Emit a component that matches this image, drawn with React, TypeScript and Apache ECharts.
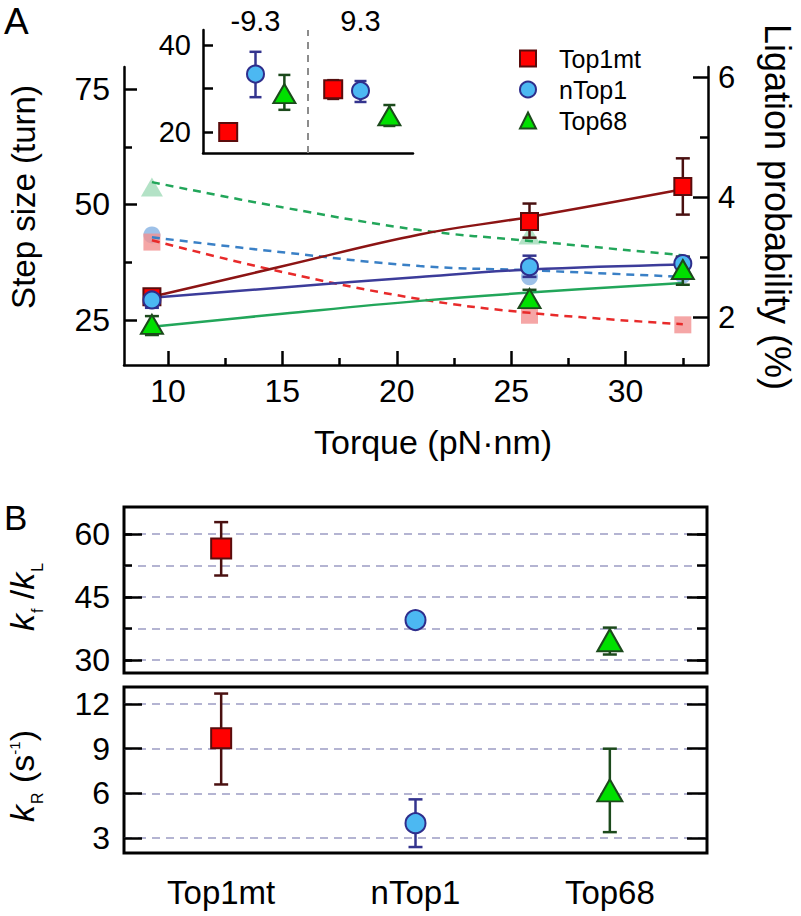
import React, { useEffect, useRef } from 'react';
import * as echarts from 'echarts';

const FONT = '"Liberation Sans", Arial, Helvetica, sans-serif';

// ---------- Panel A main data ----------
const torque = [9.3, 25.8, 32.5];
const stepTop1mt = [30.0, 46.3, 53.9];
const stepTop1mtLo = [28.6, 42.8, 47.8];
const stepTop1mtHi = [31.4, 50.2, 60.0];
const stepNTop1 = [29.3, 36.5, 37.2];
const stepNTop1Lo = [27.6, 34.3, 35.8];
const stepNTop1Hi = [31.0, 38.9, 38.6];
const stepTop68 = [24.0, 29.6, 35.9];
const stepTop68Lo = [21.7, 27.6, 32.6];
const stepTop68Hi = [25.8, 31.5, 38.7];

const ligTop1mt = [3.25, 2.03, 1.87];
const ligNTop1 = [3.37, 2.67, 2.7];
const ligTop68 = [4.17, 3.37, 2.8];

const fitTorque = [9.3, 15, 21, 25.8, 32.5];
const stepFitTop1mt = [30.0, 36.6, 43.5, 47.3, 53.3];
const stepFitNTop1 = [29.8, 32.0, 34.3, 35.9, 37.0];
const stepFitTop68 = [23.5, 26.3, 29.1, 30.9, 33.0];
const ligFitTop1mt = [3.28, 2.75, 2.3, 2.07, 1.88];
const ligFitNTop1 = [3.33, 3.08, 2.85, 2.78, 2.67];
const ligFitTop68 = [4.25, 3.83, 3.45, 3.27, 3.03];

// ---------- Inset data ----------
const insetGroups = ['-9.3', '9.3'];
const insetTop1mt = [20.0, 29.8];
const insetTop1mtLo = [19.2, 27.6];
const insetTop1mtHi = [20.8, 31.9];
const insetNTop1 = [33.3, 29.5];
const insetNTop1Lo = [28.0, 26.9];
const insetNTop1Hi = [38.4, 31.7];
const insetTop68 = [28.8, 23.7];
const insetTop68Lo = [25.1, 21.4];
const insetTop68Hi = [33.1, 26.2];

// ---------- Panel B data ----------
const cats = ['Top1mt', 'nTop1', 'Top68'];
const kfkL = [56.5, 39.5, 34.7];
const kfkLLo = [50.1, 38.8, 31.3];
const kfkLHi = [62.8, 40.2, 37.7];
const kR = [9.7, 4.0, 6.2];
const kRLo = [6.6, 2.4, 3.4];
const kRHi = [12.7, 5.6, 9.0];

// ---------- Tick values ----------
const torqueTicks = [10, 15, 20, 25, 30];
const torqueMinor = [12.5, 17.5, 22.5, 27.5, 32.5];
const stepTicks = [25, 50, 75];
const stepMinor = [37.5, 62.5];
const ligTicks = [2, 4, 6];
const ligMinor = [3, 5];
const insetTicks = [20, 30, 40];
const insetLabels = [20, 40];
const kfTicks = [30, 45, 60];
const kfGrid = [30, 37.5, 45, 52.5, 60];
const kRTicks = [3, 6, 9, 12];

// ---------- Styles ----------
const C = {
  top1mtFill: '#ff0000', top1mtBorder: '#5a0c0c', top1mtErr: '#4a1010', top1mtFit: '#8c1414', top1mtDash: '#e82a2a', top1mtFaded: '#f39090',
  nTop1Fill: '#4cb8f2', nTop1Border: '#2e2e8c', nTop1Err: '#34348e', nTop1Fit: '#3c3c9a', nTop1Dash: '#3a80c6', nTop1Faded: '#86b2e2',
  top68Fill: '#00e000', top68Border: '#1c4a1c', top68Err: '#1c4a1c', top68Fit: '#22a65a', top68Dash: '#22a65a', top68Faded: '#a0dbb8',
};

const zip = (xs: number[], ys: number[]) => xs.map((x, i) => [x, ys[i]]);
const zip3 = (xs: number[], a: number[], b: number[]) => xs.map((x, i) => [x, a[i], b[i]]);

function errorBars(xAxisIndex: number, yAxisIndex: number, data: number[][], color: string, cap: number) {
  return {
    type: 'custom',
    xAxisIndex,
    yAxisIndex,
    silent: true,
    z: 3,
    encode: { x: 0, y: [1, 2] },
    data,
    renderItem: (_p: any, api: any) => {
      const x = api.value(0);
      const p1 = api.coord([x, api.value(1)]);
      const p2 = api.coord([x, api.value(2)]);
      const style = { stroke: color, lineWidth: 2.5 };
      return {
        type: 'group',
        children: [
          { type: 'line', shape: { x1: p1[0], y1: p1[1], x2: p2[0], y2: p2[1] }, style },
          { type: 'line', shape: { x1: p1[0] - cap, y1: p1[1], x2: p1[0] + cap, y2: p1[1] }, style },
          { type: 'line', shape: { x1: p2[0] - cap, y1: p2[1], x2: p2[0] + cap, y2: p2[1] }, style },
        ],
      };
    },
  };
}

function markers(name: string, xAxisIndex: number, yAxisIndex: number, data: any[], symbol: string, size: any, fill: string, border: string, extra: any = {}) {
  return {
    type: 'scatter',
    name,
    xAxisIndex,
    yAxisIndex,
    symbol,
    symbolSize: size,
    z: 4,
    silent: true,
    itemStyle: { color: fill, borderColor: border, borderWidth: 2, opacity: 1 },
    data,
    ...extra,
  };
}

function fadedMarkers(yAxisIndex: number, data: any[], symbol: string, size: any, fill: string) {
  return {
    type: 'scatter',
    name: 'faded',
    xAxisIndex: 0,
    yAxisIndex,
    symbol,
    symbolSize: size,
    z: 1,
    silent: true,
    itemStyle: { color: fill, opacity: 0.8, borderWidth: 0 },
    data,
  };
}

function fitLine(yAxisIndex: number, data: any[], color: string, dashed: boolean) {
  return {
    type: 'line',
    name: 'fit',
    xAxisIndex: 0,
    yAxisIndex,
    smooth: 0.4,
    showSymbol: false,
    silent: true,
    z: 2,
    lineStyle: { color, width: 2.5, type: dashed ? [8, 6] : 'solid' },
    data,
  };
}

const lineStyle = { color: '#000', width: 2.5 };
const tickStyle = { color: '#000', width: 2.5 };

function valueAxis(o: any) {
  const {
    gridIndex, position, min, max, ticks, tickLen, labels, fontSize, margin, showLine, split,
  } = o;
  return {
    type: 'value',
    gridIndex,
    position,
    min,
    max,
    axisLine: { show: !!showLine, onZero: false, lineStyle },
    axisTick: ticks ? { show: true, inside: true, length: tickLen, customValues: ticks, lineStyle: tickStyle } : { show: false },
    axisLabel: labels
      ? { show: true, customValues: labels, fontSize, margin, color: '#000', fontFamily: FONT }
      : { show: false },
    splitLine: split
      ? { show: true, lineStyle: { color: '#9c9cc4', width: 1.5, type: [8, 6] } }
      : { show: false },
  };
}

const App: React.FC = () => {
  const ref = useRef<HTMLDivElement>(null);

  useEffect(() => {
    if (!ref.current) return;
    const chart = echarts.init(ref.current, undefined, { renderer: 'svg' });

    const insetX = (offset: number) => insetGroups.map((_, g) => g * 2 + 1 + offset);

    const option: any = {
      animation: false,
      backgroundColor: '#ffffff',
      textStyle: { fontFamily: FONT },
      grid: [
        { left: 124, top: 67, width: 584, height: 298 },
        { left: 203, top: 30, width: 210, height: 123 },
        { left: 124, top: 507, width: 583, height: 166, show: true, borderColor: '#000', borderWidth: 3, backgroundColor: 'transparent' },
        { left: 124, top: 687, width: 583, height: 166, show: true, borderColor: '#000', borderWidth: 3, backgroundColor: 'transparent' },
      ],
      legend: {
        data: cats,
        orient: 'vertical',
        left: 514,
        top: 41,
        itemWidth: 16,
        itemHeight: 16,
        itemGap: 6,
        selectedMode: false,
        itemStyle: { borderWidth: 2 },
        textStyle: { fontSize: 25, color: '#000', fontFamily: FONT, padding: [0, 0, 0, 18] },
      },
      xAxis: [
        valueAxis({ gridIndex: 0, position: 'bottom', min: 8.08, max: 33.6, ticks: torqueTicks, tickLen: 14, labels: torqueTicks, fontSize: 32, margin: 10, showLine: true }),
        valueAxis({ gridIndex: 0, position: 'bottom', min: 8.08, max: 33.6, ticks: torqueMinor, tickLen: 7 }),
        valueAxis({ gridIndex: 1, position: 'bottom', min: 0, max: 4, showLine: true }),
        {
          type: 'category', gridIndex: 1, position: 'top', data: insetGroups,
          axisLine: { show: false }, axisTick: { show: false },
          axisLabel: { show: true, fontSize: 29, margin: -5, color: '#000', fontFamily: FONT },
          splitLine: { show: false },
        },
        { type: 'category', gridIndex: 2, data: cats, axisLine: { show: false }, axisTick: { show: false }, axisLabel: { show: false } },
        {
          type: 'category', gridIndex: 3, data: cats, axisLine: { show: false }, axisTick: { show: false },
          axisLabel: { show: true, fontSize: 33, margin: 23, color: '#000', fontFamily: FONT },
        },
      ],
      yAxis: [
        valueAxis({ gridIndex: 0, position: 'left', min: 15.2, max: 79.8, ticks: stepTicks, tickLen: 13, labels: stepTicks, fontSize: 32, margin: 14, showLine: true }),
        valueAxis({ gridIndex: 0, position: 'left', min: 15.2, max: 79.8, ticks: stepMinor, tickLen: 8 }),
        valueAxis({ gridIndex: 0, position: 'right', min: 1.2, max: 6.17, ticks: ligTicks, tickLen: 15, labels: ligTicks, fontSize: 31, margin: 10, showLine: true }),
        valueAxis({ gridIndex: 0, position: 'right', min: 1.2, max: 6.17, ticks: ligMinor, tickLen: 8 }),
        valueAxis({ gridIndex: 1, position: 'left', min: 15.2, max: 43.4, ticks: insetTicks, tickLen: 10, labels: insetLabels, fontSize: 29, margin: 12, showLine: true }),
        valueAxis({ gridIndex: 2, position: 'left', min: 26.9, max: 66.4, ticks: kfTicks, tickLen: 18, labels: kfTicks, fontSize: 32, margin: 14 }),
        valueAxis({ gridIndex: 2, position: 'left', min: 26.9, max: 66.4, ticks: kfGrid, tickLen: 8, split: true }),
        valueAxis({ gridIndex: 2, position: 'right', min: 26.9, max: 66.4, ticks: kfTicks, tickLen: 20 }),
        valueAxis({ gridIndex: 2, position: 'right', min: 26.9, max: 66.4, ticks: kfGrid, tickLen: 10 }),
        valueAxis({ gridIndex: 3, position: 'left', min: 2.0, max: 13.14, ticks: kRTicks, tickLen: 18, labels: kRTicks, fontSize: 32, margin: 14, split: true }),
        valueAxis({ gridIndex: 3, position: 'right', min: 2.0, max: 13.14, ticks: kRTicks, tickLen: 20 }),
      ],
      series: [
        fadedMarkers(2, zip(torque, ligNTop1), 'circle', 17, C.nTop1Faded),
        fadedMarkers(2, zip(torque, ligTop68), 'triangle', [22, 19], C.top68Faded),
        fadedMarkers(2, zip(torque, ligTop1mt), 'rect', 17, C.top1mtFaded),
        fitLine(2, zip(fitTorque, ligFitTop68), C.top68Dash, true),
        fitLine(2, zip(fitTorque, ligFitNTop1), C.nTop1Dash, true),
        fitLine(2, zip(fitTorque, ligFitTop1mt), C.top1mtDash, true),
        fitLine(0, zip(fitTorque, stepFitTop68), C.top68Fit, false),
        fitLine(0, zip(fitTorque, stepFitTop1mt), C.top1mtFit, false),
        fitLine(0, zip(fitTorque, stepFitNTop1), C.nTop1Fit, false),
        errorBars(0, 0, zip3(torque, stepTop1mtLo, stepTop1mtHi), C.top1mtErr, 7),
        errorBars(0, 0, zip3(torque, stepNTop1Lo, stepNTop1Hi), C.nTop1Err, 7),
        errorBars(0, 0, zip3(torque, stepTop68Lo, stepTop68Hi), C.top68Err, 7),
        markers('Top1mt', 0, 0, zip(torque, stepTop1mt), 'rect', 17, C.top1mtFill, C.top1mtBorder),
        markers('nTop1', 0, 0, zip(torque, stepNTop1), 'circle', 17, C.nTop1Fill, C.nTop1Border),
        markers('Top68', 0, 0, zip(torque, stepTop68), 'triangle', [22, 19], C.top68Fill, C.top68Border),

        errorBars(2, 4, zip3(insetX(-0.52), insetTop1mtLo, insetTop1mtHi), C.top1mtErr, 6),
        errorBars(2, 4, zip3(insetX(0), insetNTop1Lo, insetNTop1Hi), C.nTop1Err, 6),
        errorBars(2, 4, zip3(insetX(0.55), insetTop68Lo, insetTop68Hi), C.top68Err, 6),
        markers('Top1mt', 2, 4, zip(insetX(-0.52), insetTop1mt), 'rect', 18, C.top1mtFill, C.top1mtBorder),
        markers('nTop1', 2, 4, zip(insetX(0), insetNTop1), 'circle', 17, C.nTop1Fill, C.nTop1Border, {
          markLine: {
            silent: true,
            symbol: ['none', 'none'],
            label: { show: false },
            lineStyle: { type: [7, 6], color: '#8c8c8c', width: 2 },
            data: [{ xAxis: 2 }],
          },
        }),
        markers('Top68', 2, 4, zip(insetX(0.55), insetTop68), 'triangle', [22, 19], C.top68Fill, C.top68Border),

        errorBars(4, 5, [[0, kfkLLo[0], kfkLHi[0]]], C.top1mtErr, 7),
        errorBars(4, 5, [[1, kfkLLo[1], kfkLHi[1]]], C.nTop1Err, 7),
        errorBars(4, 5, [[2, kfkLLo[2], kfkLHi[2]]], C.top68Err, 7),
        markers('Top1mt', 4, 5, [[0, kfkL[0]]], 'rect', 20, C.top1mtFill, C.top1mtBorder),
        markers('nTop1', 4, 5, [[1, kfkL[1]]], 'circle', 20, C.nTop1Fill, C.nTop1Border),
        markers('Top68', 4, 5, [[2, kfkL[2]]], 'triangle', [25, 22], C.top68Fill, C.top68Border),

        errorBars(5, 9, [[0, kRLo[0], kRHi[0]]], C.top1mtErr, 7),
        errorBars(5, 9, [[1, kRLo[1], kRHi[1]]], C.nTop1Err, 7),
        errorBars(5, 9, [[2, kRLo[2], kRHi[2]]], C.top68Err, 7),
        markers('Top1mt', 5, 9, [[0, kR[0]]], 'rect', 20, C.top1mtFill, C.top1mtBorder),
        markers('nTop1', 5, 9, [[1, kR[1]]], 'circle', 20, C.nTop1Fill, C.nTop1Border),
        markers('Top68', 5, 9, [[2, kR[2]]], 'triangle', [25, 22], C.top68Fill, C.top68Border),
      ],
      graphic: [
        { type: 'text', x: 4, y: 3, silent: true, style: { text: 'A', fontSize: 37, fontFamily: FONT, fill: '#000', align: 'left', verticalAlign: 'top' } },
        { type: 'text', x: 4, y: 500, silent: true, style: { text: 'B', fontSize: 35, fontFamily: FONT, fill: '#000', align: 'left', verticalAlign: 'top' } },
        { type: 'text', x: 433, y: 442, silent: true, style: { text: 'Torque (pN·nm)', fontSize: 34, fontFamily: FONT, fill: '#000', align: 'center', verticalAlign: 'middle' } },
        { type: 'text', x: 23, y: 197, rotation: Math.PI / 2, silent: true, style: { text: 'Step size (turn)', fontSize: 33, fontFamily: FONT, fill: '#000', align: 'center', verticalAlign: 'middle' } },
        { type: 'text', x: 777, y: 207, rotation: -Math.PI / 2, silent: true, style: { text: 'Ligation probability (%)', fontSize: 36, fontFamily: FONT, fill: '#000', align: 'center', verticalAlign: 'middle' } },
        {
          type: 'text', x: 22, y: 597, rotation: Math.PI / 2, silent: true,
          style: {
            text: '{k|k}{s|f}{n| /}{k|k}{s|L}', fill: '#000', align: 'center', verticalAlign: 'middle',
            rich: {
              k: { fontSize: 34, fontStyle: 'italic', fontFamily: FONT, fill: '#000' },
              n: { fontSize: 34, fontFamily: FONT, fill: '#000' },
              s: { fontSize: 16, fontFamily: FONT, fill: '#000', padding: [30, 0, 0, 1] },
            },
          },
        },
        {
          type: 'text', x: 22, y: 776, rotation: Math.PI / 2, silent: true,
          style: {
            text: '{k|k}{s|R}{n| (s}{p|-1}{n|)}', fill: '#000', align: 'center', verticalAlign: 'middle',
            rich: {
              k: { fontSize: 34, fontStyle: 'italic', fontFamily: FONT, fill: '#000' },
              n: { fontSize: 34, fontFamily: FONT, fill: '#000' },
              s: { fontSize: 16, fontFamily: FONT, fill: '#000', padding: [30, 0, 0, 1] },
              p: { fontSize: 15, fontFamily: FONT, fill: '#000', padding: [0, 0, 16, 0] },
            },
          },
        },
      ],
    };

    chart.setOption(option);
    return () => chart.dispose();
  }, []);

  return <div ref={ref} style={{ position: 'absolute', left: 0, top: 0, width: 801, height: 916, background: '#fff' }} />;
};

export default App;
